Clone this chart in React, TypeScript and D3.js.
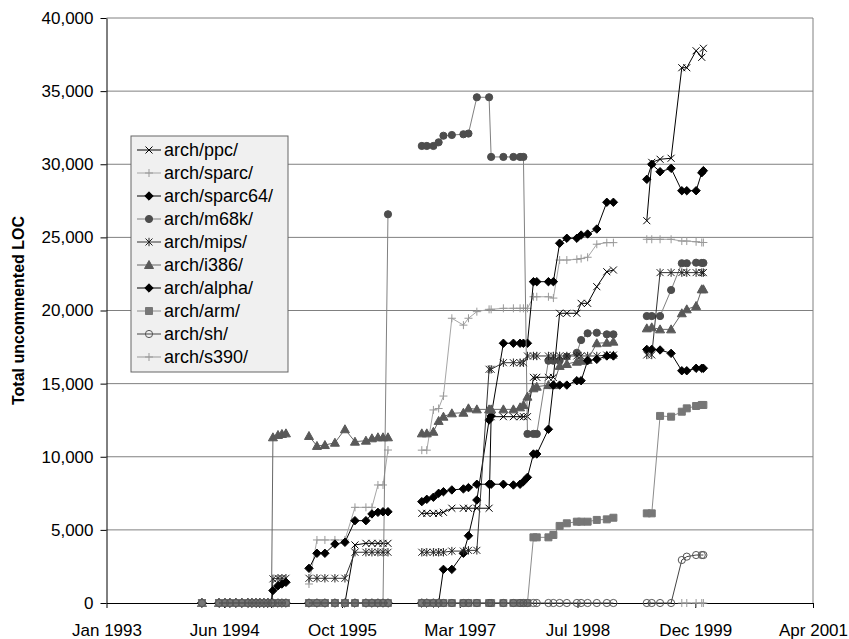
import React, { useEffect, useRef } from 'react';
import * as d3 from 'd3';

// kernel development lines and how many releases of each are plotted
const kernelLines = ['1.0', '1.1', '1.3', '2.1', '2.3'];
const releasesPerLine = [1, 16, 11, 28, 9];

// release dates as decimal years, in the same order
const releaseDates = [
  1994.115,
  1994.314, 1994.384, 1994.442, 1994.512, 1994.582, 1994.652, 1994.699, 1994.746,
  1994.792, 1994.839, 1994.886, 1994.927, 1994.944, 1995.003, 1995.049, 1995.096,
  1995.365, 1995.458, 1995.551, 1995.668, 1995.785, 1995.902, 1996.030, 1996.100,
  1996.170, 1996.229, 1996.287,
  1996.681, 1996.739, 1996.816, 1996.877, 1996.933, 1997.031, 1997.166, 1997.225,
  1997.323, 1997.466, 1997.490, 1997.633, 1997.750, 1997.828, 1997.867, 1997.914,
  1997.984, 1998.023, 1998.159, 1998.217, 1998.290, 1998.374, 1998.491, 1998.541,
  1998.617, 1998.724, 1998.841, 1998.918,
  1999.308, 1999.366, 1999.463, 1999.592, 1999.717, 1999.775, 1999.884, 1999.950, 1999.969,
];

const ppc = [
  0,
  0, 0, 0, 0, 0, 0, 0, 0, 0, 0, 0, 0, 0, 0, 0, 0,
  0, 0, 0, 0, 0, 3970, 4080, 4080, 4080, 4080, 4080,
  6130, 6130, 6130, 6130, 6200, 6480, 6480, 6480, 6480, 6480, 12740, 12740, 12740, 12740,
  12740, 12740, 15430, 15430, 15430, 15430, 19810, 19810, 19810, 20490, 20490, 21630, 22650, 22770,
  26140, 30130, 30340, 30410, 36600, 36600, 37760, 37310, 37930,
];
const sparc = [
  0,
  0, 0, 0, 0, 0, 0, 0, 0, 0, 0, 0, 0, 0, 0, 0, 0,
  1300, 4310, 4310, 4310, 4310, 6540, 6540, 6540, 8070, 8070, 10460,
  10450, 10450, 13200, 13300, 14150, 19470, 19000, 19470, 19920, 20080, 20080, 20150, 20150, 20150,
  20150, 20150, 20940, 20940, 20940, 20850, 23450, 23450, 23500, 23550, 23640, 24530, 24640, 24640,
  24870, 24870, 24870, 24870, 24750, 24750, 24700, 24650, 24650,
];
const sparc64 = [
  0,
  0, 0, 0, 0, 0, 0, 0, 0, 0, 0, 0, 0, 0, 0, 0, 0,
  0, 0, 0, 0, 0, 0, 0, 0, 0, 0, 0,
  0, 0, 0, 0, 2300, 2300, 3400, 4600, 7040, 12510, 12790, 17760, 17760, 17760,
  17760, 17760, 21970, 21970, 21970, 21970, 24600, 24940, 24940, 25160, 25230, 25570, 27400, 27400,
  28970, 30000, 29490, 29720, 28190, 28190, 28190, 29420, 29560,
];
const m68k = [
  0,
  0, 0, 0, 0, 0, 0, 0, 0, 0, 0, 0, 0, 0, 0, 0, 0,
  0, 0, 0, 0, 0, 0, 0, 0, 0, 0, 26580,
  31250, 31250, 31250, 31500, 31950, 32000, 32050, 32100, 34580, 34580, 30500, 30500, 30500, 30500,
  30500, 11560, 11560, 11560, 16570, 16570, 16570, 16840, 17110, 17980, 18440, 18480, 18370, 18370,
  19620, 19620, 19620, 21400, 23230, 23230, 23270, 23250, 23250,
];
const mips = [
  0,
  0, 0, 0, 0, 0, 0, 0, 0, 0, 0, 0, 0, 1650, 1690, 1690, 1690,
  1690, 1690, 1690, 1690, 1690, 3470, 3470, 3470, 3470, 3470, 3470,
  3470, 3470, 3470, 3470, 3470, 3550, 3550, 3600, 3600, 15980, 15980, 16430, 16430, 16430,
  16430, 16890, 16890, 16890, 16890, 16890, 16890, 16890, 16890, 16890, 16890, 16890, 16950, 16950,
  16960, 16960, 22590, 22590, 22590, 22590, 22590, 22590, 22590,
];
const i386 = [
  0,
  0, 0, 0, 0, 0, 0, 0, 0, 0, 0, 0, 0, 11330, 11490, 11560, 11600,
  11420, 10740, 10800, 10960, 11880, 11030, 11100, 11260, 11330, 11330, 11330,
  11600, 11600, 11710, 12450, 12740, 12970, 13010, 13310, 13240, 13240, 13240, 13240, 13240, 13380,
  13540, 14110, 14680, 14790, 14900, 14900, 16210, 16340, 16500, 16560, 16620, 17760, 17800, 17870,
  18780, 18850, 18710, 18710, 19810, 20080, 20310, 21450, 21450,
];
const alpha = [
  0,
  0, 0, 0, 0, 0, 0, 0, 0, 0, 0, 0, 0, 850, 1180, 1300, 1415,
  2370, 3400, 3400, 4030, 4150, 5630, 5630, 6090, 6200, 6240, 6240,
  6930, 7090, 7230, 7500, 7610, 7730, 7800, 7890, 8120, 8120, 8120, 8120, 8070, 8120,
  8300, 8590, 10190, 10190, 11880, 14900, 14900, 14900, 15200, 15200, 16570, 16660, 16890, 16890,
  17340, 17340, 17300, 17070, 15880, 15880, 16050, 16050, 16050,
];
const arm = [
  0,
  0, 0, 0, 0, 0, 0, 0, 0, 0, 0, 0, 0, 0, 0, 0, 0,
  0, 0, 0, 0, 0, 0, 0, 0, 0, 0, 0,
  0, 0, 0, 0, 0, 0, 0, 0, 0, 0, 0, 0, 0, 0,
  0, 0, 4490, 4490, 4490, 4650, 5270, 5450, 5560, 5560, 5560, 5680, 5720, 5830,
  6130, 6130, 12790, 12740, 13080, 13310, 13470, 13540, 13540,
];
const sh = [
  0,
  0, 0, 0, 0, 0, 0, 0, 0, 0, 0, 0, 0, 0, 0, 0, 0,
  0, 0, 0, 0, 0, 0, 0, 0, 0, 0, 0,
  0, 0, 0, 0, 0, 0, 0, 0, 0, 0, 0, 0, 0, 0,
  0, 0, 0, 0, 0, 0, 0, 0, 0, 0, 0, 0, 0, 0,
  0, 0, 0, 0, 2940, 3170, 3280, 3280, 3280,
];
const s390 = [
  null,
  null, null, null, null, null, null, null, null, null, null, null, null, null, null, null, null,
  null, null, null, null, null, null, null, null, null, null, null,
  null, null, null, null, null, null, null, null, null, null, null, null, null, null,
  null, null, null, null, null, null, null, null, null, null, null, null, null, null,
  null, null, null, null, 0, 0, 0, 0, 0,
];

const seriesNames = ['arch/ppc/', 'arch/sparc/', 'arch/sparc64/', 'arch/m68k/', 'arch/mips/',
  'arch/i386/', 'arch/alpha/', 'arch/arm/', 'arch/sh/', 'arch/s390/'];
const seriesValues = [ppc, sparc, sparc64, m68k, mips, i386, alpha, arm, sh, s390];

const xTickLabels = ['Jan 1993', 'Jun 1994', 'Oct 1995', 'Mar 1997', 'Jul 1998', 'Dec 1999', 'Apr 2001'];

// look of each series (same order as seriesNames)
const styles = [
  { line: '#000', marker: 'cross', fill: 'none', stroke: '#000' },
  { line: '#a6a6a6', marker: 'plus', fill: 'none', stroke: '#999' },
  { line: '#000', marker: 'diamond', fill: '#000', stroke: '#000' },
  { line: '#808080', marker: 'circle', fill: '#4d4d4d', stroke: '#4d4d4d' },
  { line: '#333', marker: 'star', fill: 'none', stroke: '#222' },
  { line: '#666', marker: 'triangle', fill: '#595959', stroke: '#595959' },
  { line: '#000', marker: 'diamond', fill: '#000', stroke: '#000' },
  { line: '#8c8c8c', marker: 'square', fill: '#777', stroke: '#777' },
  { line: '#444', marker: 'circle', fill: 'none', stroke: '#555' },
  { line: '#999', marker: 'plus', fill: 'none', stroke: '#999' },
];

const markerPaths = {
  cross: 'M-3.5,-3.5L3.5,3.5M-3.5,3.5L3.5,-3.5',
  plus: 'M-4,0H4M0,-4V4',
  diamond: 'M0,-4.2L4.2,0L0,4.2L-4.2,0Z',
  circle: 'M3.6,0A3.6,3.6,0,1,1,-3.6,0A3.6,3.6,0,1,1,3.6,0Z',
  star: 'M-3.5,-3.5L3.5,3.5M-3.5,3.5L3.5,-3.5M0,-4.2V4.2',
  triangle: 'M0,-4.5L4.5,3.5L-4.5,3.5Z',
  square: 'M-3.5,-3.5H3.5V3.5H-3.5Z',
};

const FONT = '"Liberation Sans", Arial, sans-serif';

const yearToDate = (yr: number) => {
  const y = Math.floor(yr);
  const a = new Date(y, 0, 1).getTime();
  const b = new Date(y + 1, 0, 1).getTime();
  return new Date(a + (yr - y) * (b - a));
};

const App = () => {
  const svgRef = useRef<SVGSVGElement>(null);

  useEffect(() => {
    const width = 849;
    const height = 639;
    const plot = { left: 106.5, right: 813, top: 18, bottom: 603 };

    const svg = d3.select(svgRef.current)
      .attr('width', width)
      .attr('height', height)
      .style('font-family', FONT);
    svg.selectAll('*').remove();

    const t0 = new Date(1993, 0, 1);
    const t1 = new Date(2001, 3, 1);
    const x = d3.scaleTime().domain([t0, t1]).range([plot.left, plot.right]);
    const y = d3.scaleLinear().domain([0, 40000]).range([plot.bottom, plot.top]);

    // gridlines
    svg.append('g')
      .selectAll('line')
      .data(y.ticks(8).filter(d => d > 0))
      .join('line')
      .attr('x1', plot.left).attr('x2', plot.right)
      .attr('y1', d => y(d)).attr('y2', d => y(d))
      .attr('stroke', '#808080')
      .attr('stroke-width', 1);

    // right border of the plot area
    svg.append('line')
      .attr('x1', plot.right).attr('x2', plot.right)
      .attr('y1', plot.top).attr('y2', plot.bottom)
      .attr('stroke', '#808080');

    // axes
    const tickDates = xTickLabels.map((_, i) =>
      new Date(t0.getTime() + (i * (t1.getTime() - t0.getTime())) / (xTickLabels.length - 1)));

    const xAxis = svg.append('g')
      .attr('transform', `translate(0,${plot.bottom})`)
      .call(d3.axisBottom(x).tickValues(tickDates)
        .tickFormat((_, i) => xTickLabels[i]).tickSize(5).tickSizeOuter(0).tickPadding(16));

    const yAxis = svg.append('g')
      .attr('transform', `translate(${plot.left},0)`)
      .call(d3.axisLeft(y).ticks(8).tickFormat(d3.format(',')).tickSize(6).tickSizeOuter(0).tickPadding(7));

    [xAxis, yAxis].forEach(a => {
      a.selectAll('text').attr('font-size', 17).attr('font-family', FONT).attr('fill', '#000');
      a.selectAll('line').attr('stroke', '#000');
      a.select('.domain').attr('stroke', '#000');
    });

    svg.append('text')
      .attr('transform', `translate(24,${(plot.top + plot.bottom) / 2}) rotate(-90)`)
      .attr('text-anchor', 'middle')
      .attr('font-size', 16)
      .attr('font-weight', 'bold')
      .text('Total uncommented LOC');

    // group release indices by kernel line so lines break between them
    const groups: number[][] = [];
    let start = 0;
    releasesPerLine.forEach(n => {
      groups.push(d3.range(start, start + n));
      start += n;
    });

    const dates = releaseDates.map(yearToDate);

    seriesValues.forEach((values, s) => {
      const st = styles[s];
      const g = svg.append('g');
      const line = d3.line<number>()
        .defined(i => values[i] != null)
        .x(i => x(dates[i]))
        .y(i => y(values[i] as number));

      groups.forEach(idx => {
        g.append('path')
          .attr('d', line(idx))
          .attr('fill', 'none')
          .attr('stroke', st.line)
          .attr('stroke-width', 1);
      });

      g.selectAll('path.m')
        .data(d3.range(values.length).filter(i => values[i] != null))
        .join('path')
        .attr('class', 'm')
        .attr('transform', i => `translate(${x(dates[i])},${y(values[i] as number)})`)
        .attr('d', markerPaths[st.marker])
        .attr('fill', st.fill)
        .attr('stroke', st.stroke)
        .attr('stroke-width', 1);
    });

    // legend
    const lg = { x: 131, y: 136, w: 157, h: 236, row: 23 };
    const legend = svg.append('g');
    legend.append('rect')
      .attr('x', lg.x).attr('y', lg.y)
      .attr('width', lg.w).attr('height', lg.h)
      .attr('fill', '#f0f0f0')
      .attr('stroke', '#666');

    seriesNames.forEach((name, s) => {
      const st = styles[s];
      const cy = lg.y + 14 + s * lg.row;
      legend.append('line')
        .attr('x1', lg.x + 6).attr('x2', lg.x + 30)
        .attr('y1', cy).attr('y2', cy)
        .attr('stroke', st.line).attr('stroke-width', 1);
      legend.append('path')
        .attr('transform', `translate(${lg.x + 18},${cy})`)
        .attr('d', markerPaths[st.marker])
        .attr('fill', st.fill)
        .attr('stroke', st.stroke);
      legend.append('text')
        .attr('x', lg.x + 33).attr('y', cy + 6)
        .attr('font-size', 18)
        .text(name);
    });
  }, []);

  return <svg ref={svgRef} style={{ position: 'absolute', left: 0, top: 0 }}></svg>;
};

export default App;
